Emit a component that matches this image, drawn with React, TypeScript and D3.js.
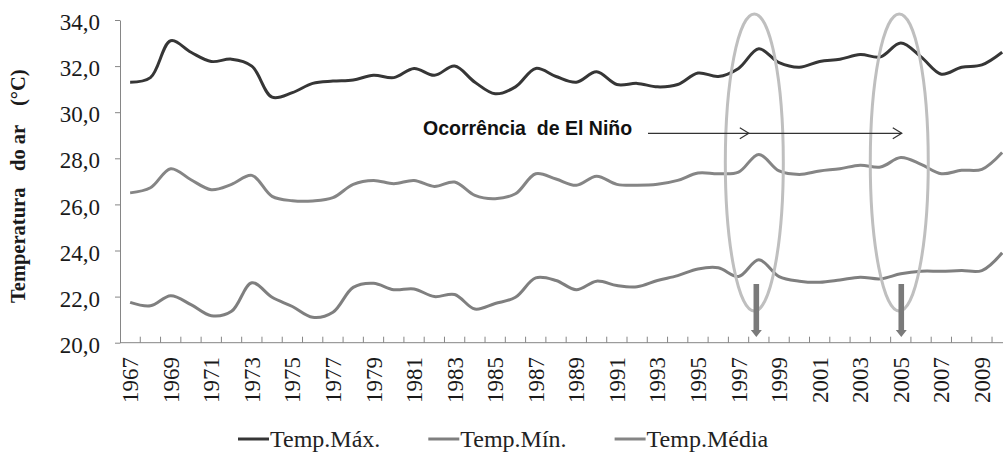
import * as d3 from "d3";
import { useEffect, useRef } from "react";

const years = [
  1967, 1968, 1969, 1970, 1971, 1972, 1973, 1974, 1975, 1976, 1977, 1978, 1979, 1980, 1981,
  1982, 1983, 1984, 1985, 1986, 1987, 1988, 1989, 1990, 1991, 1992, 1993, 1994, 1995,
  1996, 1997, 1998, 1999, 2000, 2001, 2002, 2003, 2004, 2005, 2006, 2007, 2008, 2009, 2010,
];
const tempMax = [
  31.3, 31.5, 33.1, 32.6, 32.2, 32.3, 32.0, 30.65, 30.85, 31.25, 31.35, 31.4, 31.6, 31.5, 31.9,
  31.6, 32.0, 31.3, 30.8, 31.1, 31.9, 31.55, 31.3, 31.75, 31.2, 31.25, 31.1, 31.2, 31.7,
  31.55, 31.9, 32.75, 32.15, 31.95, 32.2, 32.3, 32.5, 32.4, 33.0, 32.4, 31.65, 31.95, 32.05, 32.6,
];
const tempMedia = [
  26.5, 26.72, 27.55, 27.07, 26.64, 26.87, 27.26, 26.35, 26.16, 26.15, 26.29, 26.87, 27.04, 26.9, 27.04,
  26.78, 26.97, 26.39, 26.25, 26.46, 27.33, 27.1, 26.83, 27.22, 26.87, 26.83, 26.87, 27.04, 27.36,
  27.33, 27.4, 28.17, 27.45, 27.3, 27.45, 27.55, 27.7, 27.62, 28.03, 27.74, 27.33, 27.48, 27.52, 28.25,
];
const tempMin = [
  21.75, 21.6, 22.04, 21.65, 21.17, 21.36, 22.6, 21.97, 21.57, 21.1, 21.32, 22.4, 22.58, 22.3, 22.33,
  22.0, 22.09, 21.46, 21.7, 21.97, 22.81, 22.7, 22.3, 22.67, 22.48, 22.43, 22.7, 22.91, 23.2,
  23.25, 22.87, 23.6, 22.87, 22.67, 22.62, 22.72, 22.84, 22.77, 22.99, 23.1, 23.1, 23.13, 23.13, 23.9,
];
const yTicks = [20, 22, 24, 26, 28, 30, 32, 34];
const seriesNames = ["Temp.Máx.", "Temp.Mín.", "Temp.Média"];
const ninoYears = [1998, 2005];
const annotationText = "Ocorrência  de El Niño";
const yTitleParts = ["Temperatura", "do ar", "(°C)"];

const serif = "Liberation Serif, DejaVu Serif, serif";

export default function App() {
  const ref = useRef<SVGSVGElement>(null);

  useEffect(() => {
    draw();
  }, []);

  function draw() {
    const svg = d3.select(ref.current);
    svg.selectAll("*").remove();

    const left = 120, top = 20, bottom = 342.7, band = 20.28;
    const x = d3.scaleBand<number>().domain(years).range([left, left + band * years.length]);
    const cx = (yr: number) => (x(yr) as number) + x.bandwidth() / 2;
    const y = d3.scaleLinear().domain([20, 34]).range([bottom, top]);

    const series = [
      { name: seriesNames[0], values: tempMax, color: "#363636" },
      { name: seriesNames[1], values: tempMin, color: "#7f7f7f" },
      { name: seriesNames[2], values: tempMedia, color: "#858585" },
    ];

    // y axis
    const yAxis = d3.axisLeft(y)
      .tickValues(yTicks)
      .tickSize(5)
      .tickSizeOuter(0)
      .tickPadding(15)
      .tickFormat((d) => d3.format(".1f")(d as number).replace(".", ","));
    const gy = svg.append("g").attr("transform", `translate(${left},0)`).call(yAxis)
      .attr("font-family", serif).attr("font-size", 23);
    gy.select(".domain").attr("stroke", "#868686");
    gy.selectAll(".tick line").attr("stroke", "#868686");
    gy.selectAll(".tick text")
      .attr("dy", "0.42em")
      .attr("fill", "#1a1a1a");

    // x axis
    svg.append("line")
      .attr("x1", left).attr("x2", 1003)
      .attr("y1", bottom).attr("y2", bottom)
      .attr("stroke", "#868686");
    svg.selectAll(".xtick").data(years).enter().append("line")
      .attr("class", "xtick")
      .attr("x1", (d) => (x(d) as number) + x.bandwidth())
      .attr("x2", (d) => (x(d) as number) + x.bandwidth())
      .attr("y1", bottom - 6).attr("y2", bottom)
      .attr("stroke", "#868686");
    svg.selectAll(".xlab").data(years.filter((d, i) => i % 2 === 0)).enter().append("text")
      .attr("class", "xlab")
      .attr("transform", (d) => `translate(${cx(d)},357) rotate(-90)`)
      .attr("text-anchor", "end")
      .attr("dy", "0.35em")
      .attr("font-family", serif)
      .attr("font-size", 23)
      .attr("fill", "#1a1a1a")
      .text((d) => d);

    // y title, in three pieces spaced like the original
    const titleStarts = [303, 171, 106];
    svg.selectAll(".ytitle").data(yTitleParts).enter().append("text")
      .attr("class", "ytitle")
      .attr("transform", (d, i) => `translate(24.5,${titleStarts[i]}) rotate(-90)`)
      .attr("font-family", serif)
      .attr("font-size", 20.5)
      .attr("font-weight", "bold")
      .attr("fill", "#1a1a1a")
      .text((d) => d);

    // lines
    const line = d3.line<number>()
      .x((d, i) => cx(years[i]))
      .y((d) => y(d))
      .curve(d3.curveCatmullRom.alpha(0.5));
    svg.selectAll(".serie").data(series).enter().append("path")
      .attr("class", "serie")
      .attr("d", (s) => line(s.values))
      .attr("fill", "none")
      .attr("stroke", (s) => s.color)
      .attr("stroke-width", 3)
      .attr("stroke-linejoin", "round");

    // El Niño ellipses
    const shifts = [-4.5, -1.5];
    svg.selectAll(".nino").data(ninoYears).enter().append("ellipse")
      .attr("class", "nino")
      .attr("cx", (d, i) => cx(d) + shifts[i])
      .attr("cy", 162.5)
      .attr("rx", 29)
      .attr("ry", 148.5)
      .attr("fill", "none")
      .attr("stroke", "#bfbfbf")
      .attr("stroke-width", 3);

    // down arrows
    svg.selectAll(".down").data(ninoYears).enter().append("path")
      .attr("class", "down")
      .attr("d", (d, i) => {
        const ax = cx(d) + shifts[i] + 2;
        return `M${ax - 2.8},284 H${ax + 2.8} V330 H${ax + 5.5} L${ax},337 L${ax - 5.5},330 H${ax - 2.8} Z`;
      })
      .attr("fill", "#7a7a7a");

    // horizontal arrow + text
    const ay = 133.3;
    const tipEnd = cx(ninoYears[1]) + 1;
    const tipMid = cx(ninoYears[0]) - 10;
    svg.append("line")
      .attr("x1", 648).attr("x2", tipEnd)
      .attr("y1", ay).attr("y2", ay)
      .attr("stroke", "#333").attr("stroke-width", 1.2);
    svg.selectAll(".chev").data([tipMid, tipEnd]).enter().append("polyline")
      .attr("class", "chev")
      .attr("points", (t) => `${t - 9},${ay - 5.5} ${t},${ay} ${t - 9},${ay + 5.5}`)
      .attr("fill", "none")
      .attr("stroke", "#333")
      .attr("stroke-width", 1.2);
    svg.append("text")
      .attr("x", 423).attr("y", 135)
      .attr("font-family", "Liberation Sans")
      .attr("font-size", 19.5)
      .attr("font-weight", "bold")
      .style("white-space", "pre")
      .attr("fill", "#111")
      .text(annotationText);

    // legend
    let lx = 238;
    series.forEach((s) => {
      svg.append("line")
        .attr("x1", lx).attr("x2", lx + 31)
        .attr("y1", 439).attr("y2", 439)
        .attr("stroke", s.color).attr("stroke-width", 3);
      const t = svg.append("text")
        .attr("x", lx + 32).attr("y", 447)
        .attr("font-family", serif)
        .attr("font-size", 24)
        .attr("fill", "#222")
        .text(s.name);
      const w = (t.node() as SVGTextElement).getComputedTextLength();
      lx = lx + 32 + w + 48;
    });
  }

  return (
    <div style={{ position: "absolute", left: 0, top: 0 }}>
      <svg ref={ref} width={1003} height={455} style={{ display: "block", background: "#fff" }}></svg>
    </div>
  );
}
